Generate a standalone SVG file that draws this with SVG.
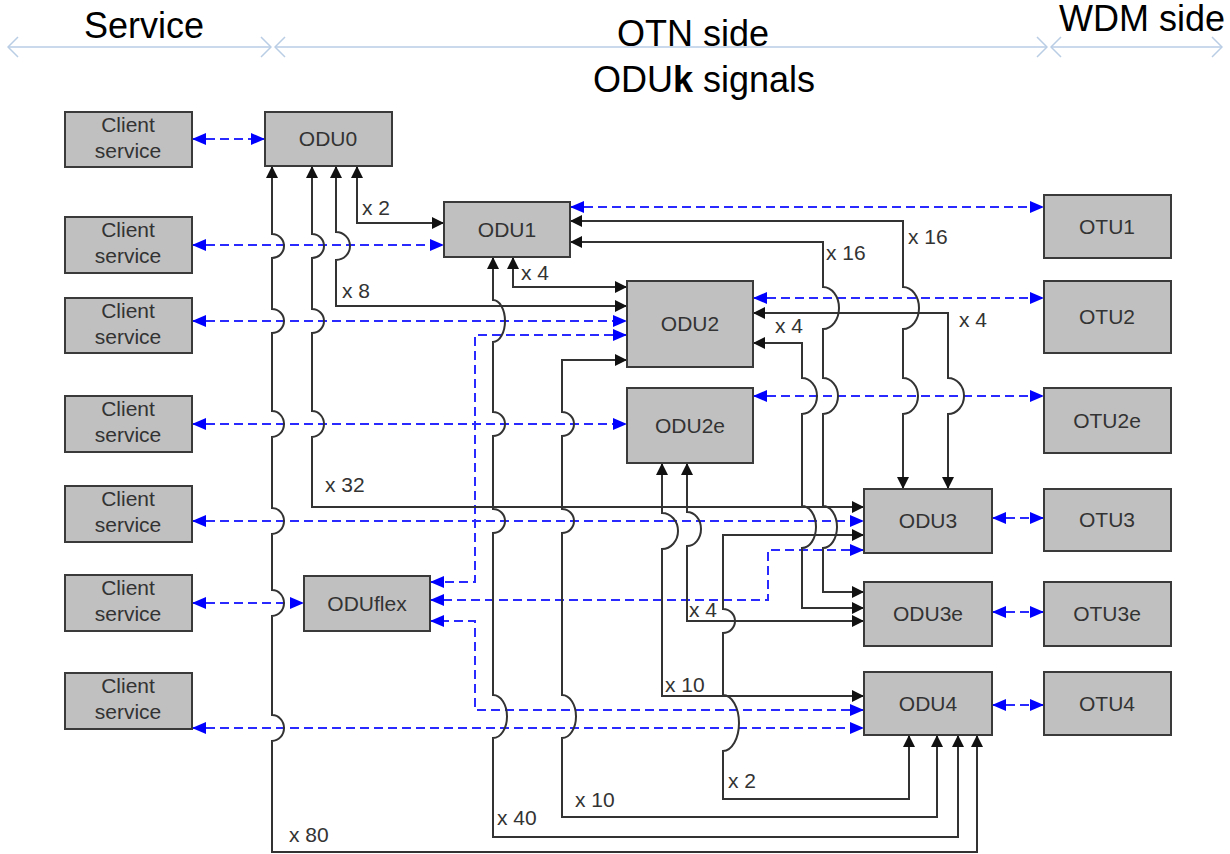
<svg xmlns="http://www.w3.org/2000/svg" width="1230" height="854" viewBox="0 0 1230 854">
<style>
.box rect{fill:#c0c0c0;stroke:#3a3a3a;stroke-width:2}
.box text{font-family:"Liberation Sans",Arial,sans-serif;font-size:21px;fill:#333;text-anchor:middle}
.hdr{font-family:"Liberation Sans",Arial,sans-serif;font-size:36px;fill:#000}
.lbl{font-family:"Liberation Sans",Arial,sans-serif;font-size:21px;fill:#333}
.k{fill:none;stroke:#333;stroke-width:2;marker-start:url(#ak);marker-end:url(#ak)}
.b{fill:none;stroke:#2a2aff;stroke-width:2;stroke-dasharray:9 5;marker-start:url(#ab);marker-end:url(#ab)}
.h{fill:none;stroke:#b9cde5;stroke-width:1.5;marker-start:url(#ah);marker-end:url(#ah)}
</style>
<defs>
<marker id="ak" viewBox="0 0 12 12" refX="12" refY="6" markerWidth="12" markerHeight="12" markerUnits="userSpaceOnUse" orient="auto-start-reverse"><path d="M0,0 L12,6 L0,12 z" fill="#111"/></marker>
<marker id="ab" viewBox="0 0 14 12" refX="14" refY="6" markerWidth="14" markerHeight="12" markerUnits="userSpaceOnUse" orient="auto-start-reverse"><path d="M0,0 L14,6 L0,12 z" fill="#0000ff"/></marker>
<marker id="ah" viewBox="0 0 12 22" refX="11" refY="11" markerWidth="12" markerHeight="22" markerUnits="userSpaceOnUse" orient="auto-start-reverse"><path d="M1,1 L11,11 L1,21" fill="none" stroke="#b9cde5" stroke-width="1.5"/></marker>
</defs>

<g id="header">
<path class="h" d="M8,47 L271,47"/>
<path class="h" d="M275,47 L1047,47"/>
<path class="h" d="M1051,47 L1222,47"/>
<text class="hdr" x="144" y="38" text-anchor="middle">Service</text>
<text class="hdr" x="693" y="46" text-anchor="middle">OTN side</text>
<text class="hdr" x="704" y="92" text-anchor="middle">ODU<tspan font-weight="bold">k</tspan> signals</text>
<text class="hdr" x="1225" y="31" text-anchor="end">WDM side</text>
</g>

<g id="connectors">
<path class="b" d="M192,139 L265,139"/>
<path class="b" d="M192,245 L444,245"/>
<path class="b" d="M192,321 L627,321"/>
<path class="b" d="M192,424 L627,424"/>
<path class="b" d="M192,521 L864,521"/>
<path class="b" d="M192,603 L304,603"/>
<path class="b" d="M192,728 L864,728"/>
<path class="b" d="M570,207 L1044,207"/>
<path class="b" d="M753,298 L1044,298"/>
<path class="b" d="M753,396 L1044,396"/>
<path class="b" d="M992,518 L1044,518"/>
<path class="b" d="M992,612 L1044,612"/>
<path class="b" d="M992,705 L1044,705"/>
<path class="b" d="M627,335 L475,335 L475,582 L430,582"/>
<path class="b" d="M864,550 L768,550 L768,600 L430,600"/>
<path class="b" d="M864,710 L475,710 L475,621 L430,621"/>
<path class="k" d="M357,166 L357,223 L444,223"/>
<path class="k" d="M336,166 L336,232 A14,14 0 0 1 336,260 L336,306 L627,306"/>
<path class="k" d="M312,166 L312,234 A12,12 0 0 1 312,258 L312,309 A12,12 0 0 1 312,333 L312,411 A12,13 0 0 1 312,437 L312,507 L864,507"/>
<path class="k" d="M272,166 L272,234 A12,12 0 0 1 272,258 L272,309 A12,12 0 0 1 272,333 L272,411 A12,13 0 0 1 272,437 L272,508 A12,13 0 0 1 272,534 L272,590 A12,13 0 0 1 272,616 L272,715 A12,13 0 0 1 272,741 L272,852 L977,852 L977,735"/>
<path class="k" d="M513,257 L513,287 L627,287"/>
<path class="k" d="M493,257 L493,300 A12,21 0 0 1 493,342 L493,412 A12,12 0 0 1 493,436 L493,509 A12,12 0 0 1 493,533 L493,695 A14,21.5 0 0 1 493,738 L493,837 L958,837 L958,735"/>
<path class="k" d="M627,360 L562,360 L562,412 A12,12 0 0 1 562,436 L562,509 A12,12 0 0 1 562,533 L562,695 A14,21.5 0 0 1 562,738 L562,817 L937,817 L937,735"/>
<path class="k" d="M687,463 L687,512 A14,17 0 0 1 687,546 L687,621 L864,621"/>
<path class="k" d="M662,463 L662,513 A16,18 0 0 1 662,549 L662,696 L864,696"/>
<path class="k" d="M864,535 L723,535 L723,609 A12,12 0 0 1 723,633 L723,695 A16,28 0 0 1 723,751 L723,799 L909,799 L909,735"/>
<path class="k" d="M570,221 L903,221 L903,287 A16,21 0 0 1 903,329 L903,378 A15,18 0 0 1 903,414 L903,489"/>
<path class="k" d="M570,242 L823,242 L823,287 A16,21 0 0 1 823,329 L823,378 A15,18 0 0 1 823,414 L823,506 A14,21 0 0 1 823,548 L823,592 L864,592"/>
<path class="k" d="M753,313 L948,313 L948,378 A16,18 0 0 1 948,414 L948,489"/>
<path class="k" d="M753,343 L802,343 L802,378 A15,18 0 0 1 802,414 L802,506 A14,21 0 0 1 802,548 L802,608 L864,608"/>
</g>

<g id="labels">
<text class="lbl" x="362" y="215">x 2</text>
<text class="lbl" x="342" y="298">x 8</text>
<text class="lbl" x="521" y="280">x 4</text>
<text class="lbl" x="826" y="260">x 16</text>
<text class="lbl" x="908" y="244">x 16</text>
<text class="lbl" x="775" y="333">x 4</text>
<text class="lbl" x="959" y="327">x 4</text>
<text class="lbl" x="325" y="492">x 32</text>
<text class="lbl" x="689" y="617">x 4</text>
<text class="lbl" x="665" y="692">x 10</text>
<text class="lbl" x="728" y="788">x 2</text>
<text class="lbl" x="575" y="807">x 10</text>
<text class="lbl" x="497" y="825">x 40</text>
<text class="lbl" x="289" y="842">x 80</text>
</g>

<g id="client1" class="box"><rect x="65" y="112" width="127" height="55"/><text x="128" y="132">Client</text><text x="128" y="158">service</text></g>
<g id="client2" class="box"><rect x="65" y="217" width="127" height="56"/><text x="128" y="237">Client</text><text x="128" y="263">service</text></g>
<g id="client3" class="box"><rect x="65" y="298" width="127" height="55"/><text x="128" y="318">Client</text><text x="128" y="344">service</text></g>
<g id="client4" class="box"><rect x="65" y="396" width="127" height="56"/><text x="128" y="416">Client</text><text x="128" y="442">service</text></g>
<g id="client5" class="box"><rect x="65" y="486" width="127" height="56"/><text x="128" y="506">Client</text><text x="128" y="532">service</text></g>
<g id="client6" class="box"><rect x="65" y="575" width="127" height="56"/><text x="128" y="595">Client</text><text x="128" y="621">service</text></g>
<g id="client7" class="box"><rect x="65" y="673" width="127" height="56"/><text x="128" y="693">Client</text><text x="128" y="719">service</text></g>

<g id="odu0" class="box"><rect x="265" y="112" width="127" height="54"/><text x="328" y="146">ODU0</text></g>
<g id="odu1" class="box"><rect x="444" y="202" width="126" height="55"/><text x="507" y="237">ODU1</text></g>
<g id="odu2" class="box"><rect x="627" y="281" width="126" height="86"/><text x="690" y="331">ODU2</text></g>
<g id="odu2e" class="box"><rect x="627" y="388" width="126" height="75"/><text x="690" y="433">ODU2e</text></g>
<g id="oduflex" class="box"><rect x="304" y="576" width="126" height="55"/><text x="367" y="611">ODUflex</text></g>
<g id="odu3" class="box"><rect x="864" y="489" width="128" height="64"/><text x="928" y="528">ODU3</text></g>
<g id="odu3e" class="box"><rect x="864" y="582" width="128" height="64"/><text x="928" y="621">ODU3e</text></g>
<g id="odu4" class="box"><rect x="864" y="672" width="128" height="63"/><text x="928" y="711">ODU4</text></g>
<g id="otu1" class="box"><rect x="1044" y="195" width="127" height="63"/><text x="1107" y="234">OTU1</text></g>
<g id="otu2" class="box"><rect x="1044" y="281" width="127" height="72"/><text x="1107" y="324">OTU2</text></g>
<g id="otu2e" class="box"><rect x="1044" y="388" width="127" height="65"/><text x="1107" y="428">OTU2e</text></g>
<g id="otu3" class="box"><rect x="1044" y="489" width="127" height="62"/><text x="1107" y="527">OTU3</text></g>
<g id="otu3e" class="box"><rect x="1044" y="582" width="127" height="64"/><text x="1107" y="621">OTU3e</text></g>
<g id="otu4" class="box"><rect x="1044" y="672" width="127" height="63"/><text x="1107" y="711">OTU4</text></g>
</svg>
